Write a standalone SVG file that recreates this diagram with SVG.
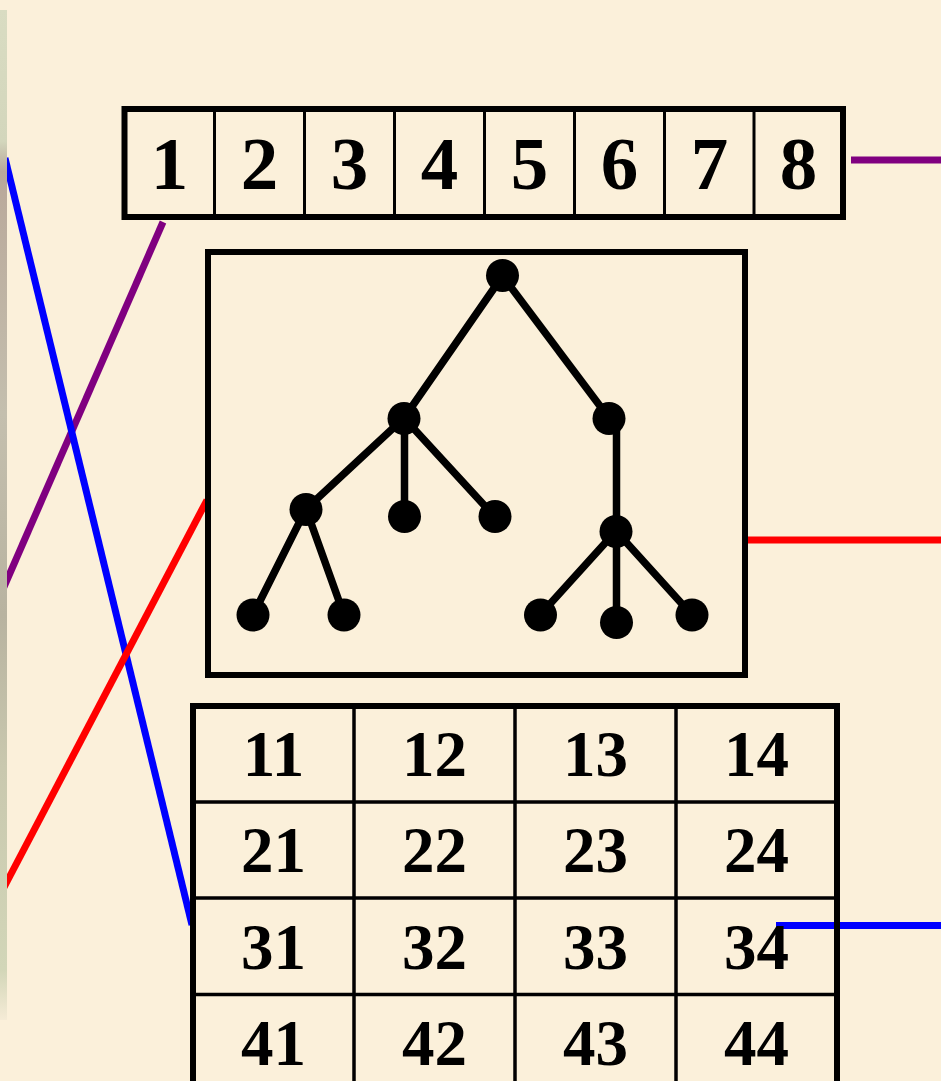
<svg xmlns="http://www.w3.org/2000/svg" width="941" height="1081" viewBox="0 0 941 1081">
  <defs>
    <linearGradient id="strip" x1="0" y1="0" x2="0" y2="1">
      <stop offset="0" stop-color="#D9DCC2"/>
      <stop offset="0.13" stop-color="#D3D6BC"/>
      <stop offset="0.16" stop-color="#B9A89A"/>
      <stop offset="0.4" stop-color="#C4BFAE"/>
      <stop offset="0.6" stop-color="#B8B3A0"/>
      <stop offset="0.75" stop-color="#C9C8AE"/>
      <stop offset="0.95" stop-color="#D2D6B8"/>
      <stop offset="1" stop-color="#F5EBD6"/>
    </linearGradient>
  </defs>
  <style>
    .box { fill: none; stroke: #000; stroke-width: 6; }
    .inner { stroke: #000; stroke-width: 3; }
    .gridline { stroke: #000; stroke-width: 3.5; }
    .num { font-family: "Liberation Serif", "Times New Roman", serif; font-weight: bold; fill: #000; text-anchor: middle; }
    .arr { font-size: 75px; }
    .mat { font-size: 65px; }
    .edge { stroke: #000; stroke-width: 7.5; stroke-linecap: round; }
    .dot { fill: #000; }
    .conn { fill: none; stroke-width: 7; }
  </style>
  <rect width="941" height="1081" fill="#FBF0DA"/>

  <g id="connectors">
    <line class="conn" stroke="#800080" x1="163" y1="222" x2="0" y2="596"/>
    <line class="conn" stroke="#800080" x1="851" y1="160" x2="941" y2="160"/>
    <line class="conn" stroke="#0000FF" x1="5" y1="158" x2="192" y2="925"/>
    <line class="conn" stroke="#0000FF" x1="776" y1="925.5" x2="941" y2="925.5"/>
    <line class="conn" stroke="#FF0000" x1="207" y1="500" x2="0" y2="895"/>
    <line class="conn" stroke="#FF0000" x1="747" y1="540" x2="941" y2="540"/>
  </g>

  <rect x="0" y="10" width="7" height="1010" fill="url(#strip)"/>

  <g id="array">
    <rect class="box" x="124.5" y="109" width="718.5" height="108"/>
    <line class="inner" x1="214.5" y1="109" x2="214.5" y2="217"/>
    <line class="inner" x1="304.5" y1="109" x2="304.5" y2="217"/>
    <line class="inner" x1="394.5" y1="109" x2="394.5" y2="217"/>
    <line class="inner" x1="484.5" y1="109" x2="484.5" y2="217"/>
    <line class="inner" x1="574.5" y1="109" x2="574.5" y2="217"/>
    <line class="inner" x1="664.5" y1="109" x2="664.5" y2="217"/>
    <line class="inner" x1="754" y1="109" x2="754" y2="217"/>
    <text class="num arr" x="169.5" y="189">1</text>
    <text class="num arr" x="259.5" y="189">2</text>
    <text class="num arr" x="349.5" y="189">3</text>
    <text class="num arr" x="439.5" y="189">4</text>
    <text class="num arr" x="529.5" y="189">5</text>
    <text class="num arr" x="619.5" y="189">6</text>
    <text class="num arr" x="709.5" y="189">7</text>
    <text class="num arr" x="798.5" y="189">8</text>
  </g>

  <g id="tree">
    <rect class="box" x="208" y="252" width="537" height="423"/>
    <line class="edge" x1="502.5" y1="276" x2="404" y2="418"/>
    <line class="edge" x1="502.5" y1="276" x2="609" y2="418"/>
    <line class="edge" x1="404" y1="418" x2="306" y2="509"/>
    <line class="edge" x1="404.5" y1="418" x2="404.5" y2="517"/>
    <line class="edge" x1="404" y1="418" x2="495" y2="517"/>
    <line class="edge" x1="306" y1="509" x2="253" y2="615"/>
    <line class="edge" x1="306" y1="509" x2="344" y2="615"/>
    <line class="edge" x1="616.5" y1="418" x2="616.5" y2="531"/>
    <line class="edge" x1="616" y1="531" x2="540" y2="615"/>
    <line class="edge" x1="616.5" y1="531" x2="616.5" y2="623"/>
    <line class="edge" x1="616" y1="531" x2="692" y2="615"/>
    <circle class="dot" cx="502.5" cy="275.5" r="16.5"/>
    <circle class="dot" cx="404" cy="418.5" r="16.5"/>
    <circle class="dot" cx="609" cy="418.5" r="16.5"/>
    <circle class="dot" cx="306" cy="509.5" r="16.5"/>
    <circle class="dot" cx="404.5" cy="516.5" r="16.5"/>
    <circle class="dot" cx="495" cy="516.5" r="16.5"/>
    <circle class="dot" cx="253" cy="615" r="16.5"/>
    <circle class="dot" cx="344" cy="615" r="16.5"/>
    <circle class="dot" cx="616" cy="531.5" r="16.5"/>
    <circle class="dot" cx="540.5" cy="615" r="16.5"/>
    <circle class="dot" cx="616.5" cy="622.5" r="16.5"/>
    <circle class="dot" cx="692" cy="615" r="16.5"/>
  </g>

  <g id="matrix">
    <line class="gridline" x1="193" y1="802" x2="837" y2="802"/>
    <line class="gridline" x1="193" y1="898" x2="837" y2="898"/>
    <line class="gridline" x1="193" y1="994.5" x2="837" y2="994.5"/>
    <line class="gridline" x1="354" y1="706" x2="354" y2="1090"/>
    <line class="gridline" x1="515" y1="706" x2="515" y2="1090"/>
    <line class="gridline" x1="676" y1="706" x2="676" y2="1090"/>
    <rect class="box" x="193" y="706" width="644" height="390"/>
    <text class="num mat" x="273.5" y="776">11</text>
    <text class="num mat" x="434.5" y="776">12</text>
    <text class="num mat" x="595.5" y="776">13</text>
    <text class="num mat" x="756.5" y="776">14</text>
    <text class="num mat" x="273.5" y="872">21</text>
    <text class="num mat" x="434.5" y="872">22</text>
    <text class="num mat" x="595.5" y="872">23</text>
    <text class="num mat" x="756.5" y="872">24</text>
    <text class="num mat" x="273.5" y="969">31</text>
    <text class="num mat" x="434.5" y="969">32</text>
    <text class="num mat" x="595.5" y="969">33</text>
    <text class="num mat" x="756.5" y="969">34</text>
    <text class="num mat" x="273.5" y="1065">41</text>
    <text class="num mat" x="434.5" y="1065">42</text>
    <text class="num mat" x="595.5" y="1065">43</text>
    <text class="num mat" x="756.5" y="1065">44</text>
  </g>
</svg>
